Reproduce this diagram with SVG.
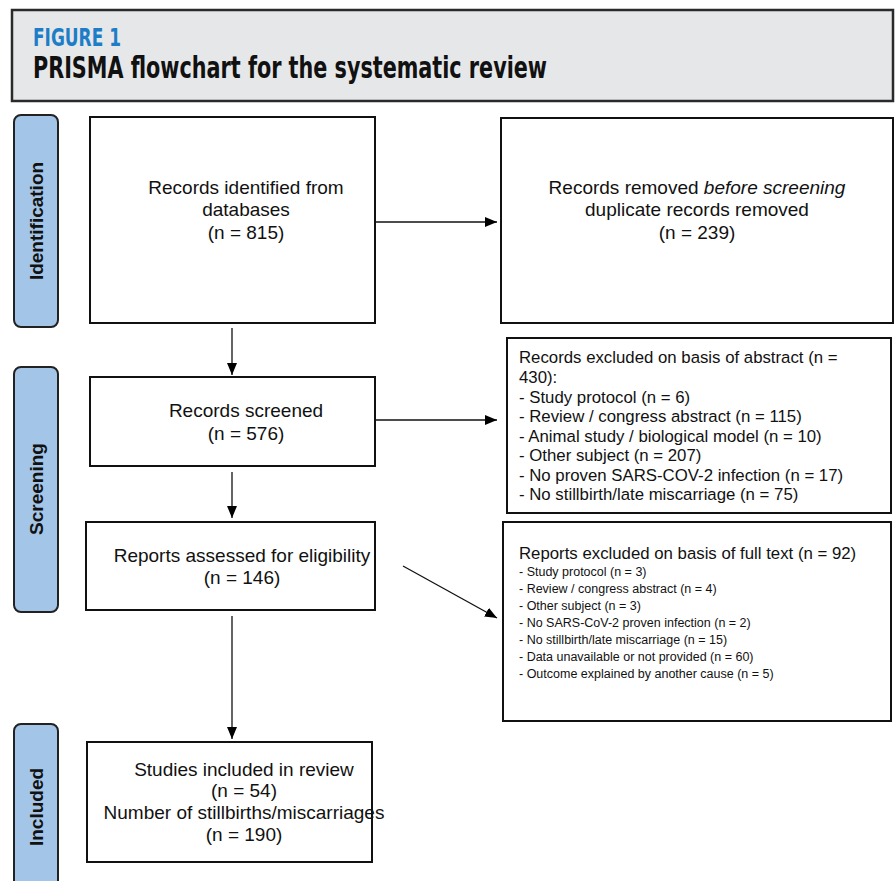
<svg xmlns="http://www.w3.org/2000/svg" width="895" height="881" viewBox="0 0 895 881">
<defs>
<marker id="ah" viewBox="0 0 12 10" refX="12" refY="5" markerWidth="12" markerHeight="10" markerUnits="userSpaceOnUse" orient="auto">
<path d="M0,0 L12,5 L0,10 Z" fill="#000"/>
</marker>
</defs>
<style>
.box{fill:#fff;stroke:#111;stroke-width:2}
.side{fill:#a3c5e8;stroke:#222;stroke-width:2}
.t{font-family:"Liberation Sans",Arial,sans-serif;font-size:19px;fill:#111}
.c{text-anchor:middle}
.s16{font-size:16.8px}
.s13{font-size:12.5px}
.lab{font-family:"Liberation Sans",Arial,sans-serif;font-size:19px;font-weight:bold;fill:#111;text-anchor:middle}
.hd{font-family:"Liberation Sans Narrow","DejaVu Sans Condensed",sans-serif;font-weight:bold;font-stretch:condensed}
.con{stroke:#111;stroke-width:1.3;fill:none;marker-end:url(#ah)}
</style>
<rect width="895" height="881" fill="#fff"/>
<g id="header">
<rect x="12" y="10" width="881" height="91" fill="#e6e7e9" stroke="#2a2a2a" stroke-width="2.5"/>
<text class="hd" x="33" y="46" font-size="25" fill="#1d7dc6" textLength="88" lengthAdjust="spacingAndGlyphs">FIGURE 1</text>
<text class="hd" x="33" y="78" font-size="30" fill="#111" textLength="514" lengthAdjust="spacingAndGlyphs">PRISMA flowchart for the systematic review</text>
</g>
<g id="stage-identification">
<rect class="side" x="14" y="115" width="44" height="212" rx="7"/>
<text class="lab" transform="translate(43,221) rotate(-90)">Identification</text>
</g>
<g id="stage-screening">
<rect class="side" x="14" y="367" width="44" height="245" rx="7"/>
<text class="lab" transform="translate(43,489) rotate(-90)">Screening</text>
</g>
<g id="stage-included">
<rect class="side" x="14" y="724" width="44" height="170" rx="7"/>
<text class="lab" transform="translate(43,807) rotate(-90)">Included</text>
</g>
<g id="connectors">
<line class="con" x1="375" y1="222" x2="497" y2="222"/>
<line class="con" x1="232" y1="328" x2="232" y2="375"/>
<line class="con" x1="375" y1="420" x2="497" y2="420"/>
<line class="con" x1="232" y1="472" x2="232" y2="518"/>
<line class="con" x1="403" y1="566" x2="497" y2="618"/>
<line class="con" x1="232" y1="616" x2="232" y2="739"/>
</g>
<g id="identified">
<rect class="box" x="90" y="117" width="285" height="206"/>
<text class="t c" x="246" y="194">Records identified from</text>
<text class="t c" x="246" y="216">databases</text>
<text class="t c" x="246" y="239">(n = 815)</text>
</g>
<g id="removed">
<rect class="box" x="501" y="118" width="392" height="205"/>
<text class="t c" x="697" y="194">Records removed <tspan font-style="italic">before screening</tspan></text>
<text class="t c" x="697" y="216">duplicate records removed</text>
<text class="t c" x="697" y="239">(n = 239)</text>
</g>
<g id="screened">
<rect class="box" x="90" y="377" width="285" height="89"/>
<text class="t c" x="246" y="417">Records screened</text>
<text class="t c" x="246" y="440">(n = 576)</text>
</g>
<g id="excluded-abstract">
<rect class="box" x="507" y="338" width="384" height="175"/>
<text class="t s16" x="519" y="363">Records excluded on basis of abstract (n =</text>
<text class="t s16" x="519" y="383">430):</text>
<text class="t s16" x="519" y="403">- Study protocol (n = 6)</text>
<text class="t s16" x="519" y="422">- Review / congress abstract (n = 115)</text>
<text class="t s16" x="519" y="442">- Animal study / biological model (n = 10)</text>
<text class="t s16" x="519" y="461">- Other subject (n = 207)</text>
<text class="t s16" x="519" y="481">- No proven SARS-COV-2 infection (n = 17)</text>
<text class="t s16" x="519" y="500">- No stillbirth/late miscarriage (n = 75)</text>
</g>
<g id="assessed">
<rect class="box" x="86" y="522" width="289" height="88"/>
<text class="t c" x="242" y="562">Reports assessed for eligibility</text>
<text class="t c" x="242" y="584">(n = 146)</text>
</g>
<g id="excluded-fulltext">
<rect class="box" x="503" y="522" width="388" height="199"/>
<text class="t s16" x="519" y="559">Reports excluded on basis of full text (n = 92)</text>
<text class="t s13" x="519" y="576">- Study protocol (n = 3)</text>
<text class="t s13" x="519" y="593">- Review / congress abstract (n = 4)</text>
<text class="t s13" x="519" y="610">- Other subject (n = 3)</text>
<text class="t s13" x="519" y="627">- No SARS-CoV-2 proven infection (n = 2)</text>
<text class="t s13" x="519" y="644">- No stillbirth/late miscarriage (n = 15)</text>
<text class="t s13" x="519" y="661">- Data unavailable or not provided (n = 60)</text>
<text class="t s13" x="519" y="678">- Outcome explained by another cause (n = 5)</text>
</g>
<g id="included">
<rect class="box" x="87" y="742" width="285" height="120"/>
<text class="t c" x="244" y="776">Studies included in review</text>
<text class="t c" x="244" y="797">(n = 54)</text>
<text class="t c" x="244" y="819">Number of stillbirths/miscarriages</text>
<text class="t c" x="244" y="841">(n = 190)</text>
</g>
</svg>
